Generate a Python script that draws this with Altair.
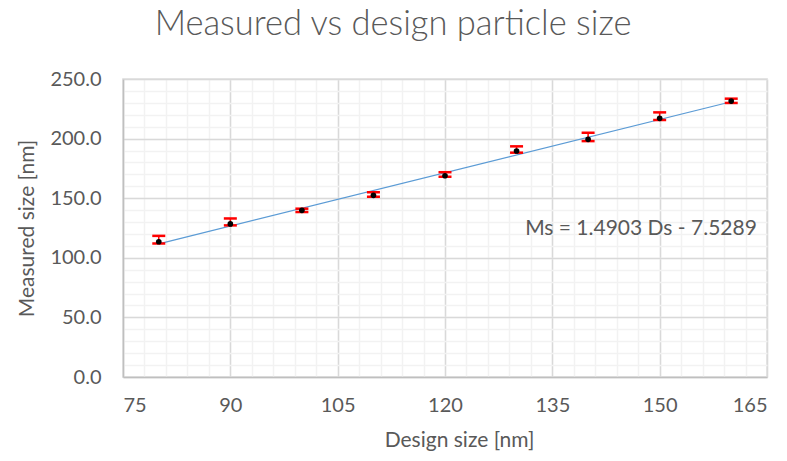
import altair as alt
import pandas as pd

# Design sizes and measured results (nm)
design = [80, 90, 100, 110, 120, 130, 140, 150, 160]
measured = [113.5, 128.4, 139.8, 152.4, 168.8, 189.6, 199.4, 217.0, 231.5]
err_low = [112.0, 127.2, 138.4, 151.2, 168.0, 188.2, 197.9, 215.6, 229.9]
err_high = [118.4, 133.0, 141.2, 154.9, 171.8, 193.5, 204.9, 222.0, 233.5]

# Linear fit reported for the series
slope = 1.4903
intercept = -7.5289
fit_label = "Ms = 1.4903 Ds - 7.5289"
fit_label_pos = (131.2, 124.5)

x_major = [75, 90, 105, 120, 135, 150, 165]
x_minor = list(range(75, 166, 3))
y_major = [0, 50, 100, 150, 200, 250]
y_minor = list(range(0, 251, 10))

df = pd.DataFrame({"design": design, "measured": measured,
                   "lo": err_low, "hi": err_high})
fit = pd.DataFrame({"design": [design[0], design[-1]]})
fit["measured"] = slope * fit["design"] + intercept
lab = pd.DataFrame({"design": [fit_label_pos[0]], "measured": [fit_label_pos[1]],
                    "t": [fit_label]})

FONT = "Lato"
GREY = "#595959"

xs = alt.Scale(domain=[75, 165], nice=False, zero=False)
ys = alt.Scale(domain=[0, 250], nice=False)

minor_x = alt.Axis(values=x_minor, grid=True, gridColor="#f2f2f2", gridWidth=1.5,
                   labels=False, ticks=False, domain=False, title=None, orient="bottom")
minor_y = alt.Axis(values=y_minor, grid=True, gridColor="#f2f2f2", gridWidth=1.5,
                   labels=False, ticks=False, domain=False, title=None, orient="left")

major_x = alt.Axis(values=x_major, grid=True, gridColor="#d9d9d9", gridWidth=1.5,
                   ticks=False, domain=True, domainColor="#bfbfbf", domainWidth=1.5,
                   labelFont=FONT, labelFontSize=20, labelColor=GREY, labelPadding=18,
                   title="Design size [nm]", titleFont=FONT, titleFontSize=21,
                   titleFontWeight="normal", titleColor=GREY, titlePadding=14,
                   titleX=336, titleAlign="center", orient="bottom")
major_y = alt.Axis(values=y_major, grid=True, gridColor="#d9d9d9", gridWidth=1.5,
                   format=".1f", ticks=False, domain=True, domainColor="#bfbfbf",
                   domainWidth=1.5, labelFont=FONT, labelFontSize=20, labelColor=GREY,
                   labelPadding=22, title="Measured size [nm]", titleFont=FONT,
                   titleFontSize=21, titleFontWeight="normal", titleColor=GREY,
                   titlePadding=12, orient="left")

trend = alt.Chart(fit).mark_line(color="#5b9bd5", strokeWidth=1.2).encode(
    x=alt.X("design:Q", scale=xs, axis=minor_x),
    y=alt.Y("measured:Q", scale=ys, axis=minor_y),
)

bars = alt.Chart(df).mark_rule(color="#ff0000", strokeWidth=1.5).encode(
    x=alt.X("design:Q", scale=xs, axis=major_x),
    y=alt.Y("lo:Q", scale=ys, axis=major_y),
    y2="hi:Q",
)

cap_hi = alt.Chart(df).mark_tick(color="#ff0000", orient="horizontal", size=13,
                                 thickness=2.5, opacity=1).encode(
    x=alt.X("design:Q", scale=xs, axis=None), y=alt.Y("hi:Q", scale=ys, axis=None))
cap_lo = alt.Chart(df).mark_tick(color="#ff0000", orient="horizontal", size=13,
                                 thickness=2.5, opacity=1).encode(
    x=alt.X("design:Q", scale=xs, axis=None), y=alt.Y("lo:Q", scale=ys, axis=None))

pts = alt.Chart(df).mark_point(filled=True, color="black", size=32, opacity=1,
                               shape="circle").encode(
    x=alt.X("design:Q", scale=xs, axis=None),
    y=alt.Y("measured:Q", scale=ys, axis=None))

label = alt.Chart(lab).mark_text(align="left", baseline="middle", font=FONT,
                                 fontSize=21, color=GREY).encode(
    x=alt.X("design:Q", scale=xs, axis=None),
    y=alt.Y("measured:Q", scale=ys, axis=None), text="t:N")

chart = alt.layer(trend, bars, cap_hi, cap_lo, pts, label).resolve_axis(
    x="independent", y="independent"
).properties(
    width=644, height=298,
    title=alt.TitleParams("Measured vs design particle size", font=FONT,
                          fontSize=34.5, fontWeight=300, color=GREY, dx=-52,
                          offset=27, anchor="middle"),
    autosize=alt.AutoSizeParams(type="none"),
    padding={"left": 123, "top": 79, "right": 20, "bottom": 84},
).configure_view(stroke="#d9d9d9", strokeWidth=1.5)

chart.save("out.html", embed_options={"renderer": "svg", "actions": False})
